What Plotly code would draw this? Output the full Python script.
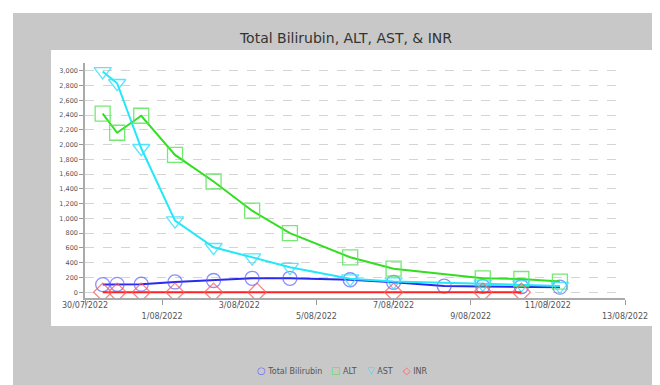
import plotly.graph_objects as go

# ---- data ----
bili_dates = ["2022-07-30 11:00", "2022-07-30 20:00", "2022-07-31 11:00", "2022-08-01 08:00",
              "2022-08-02 08:00", "2022-08-03 08:00", "2022-08-04 07:30", "2022-08-05 21:00",
              "2022-08-07 00:00", "2022-08-08 07:30", "2022-08-09 07:30", "2022-08-10 07:30",
              "2022-08-11 07:30"]
bili = [105, 108, 110, 140, 160, 190, 190, 170, 135, 85, 80, 75, 70]

alt_dates = ["2022-07-30 11:00", "2022-07-30 20:00", "2022-07-31 11:00", "2022-08-01 08:00",
             "2022-08-02 08:00", "2022-08-03 08:00", "2022-08-04 07:30", "2022-08-05 21:00",
             "2022-08-07 00:00", "2022-08-09 07:30", "2022-08-10 07:30", "2022-08-11 07:30"]
alt = [2420, 2160, 2390, 1860, 1500, 1105, 800, 474, 320, 190, 180, 145]

ast_dates = alt_dates
ast = [2990, 2830, 1950, 970, 610, 470, 340, 185, 145, 115, 105, 85]

inr_dates = ["2022-07-30 11:00", "2022-07-30 20:00", "2022-07-31 11:00", "2022-08-01 08:00",
             "2022-08-02 08:00", "2022-08-03 11:00", "2022-08-07 00:00", "2022-08-09 07:30",
             "2022-08-10 07:30"]
inr = [1.6, 1.5, 1.4, 1.3, 1.2, 1.1, 1.1, 1.0, 1.0]

x_tickvals = ["2022-07-30", "2022-08-01", "2022-08-03", "2022-08-05",
              "2022-08-07", "2022-08-09", "2022-08-11", "2022-08-13"]
x_ticktext = ["30/07/2022", "<br>1/08/2022", "3/08/2022", "<br>5/08/2022",
              "7/08/2022", "<br>9/08/2022", "11/08/2022", "<br>13/08/2022"]
y_tickvals = list(range(0, 3001, 200))
y_ticktext = [f"{v:,}" for v in y_tickvals]

title = "Total Bilirubin, ALT, AST, & INR"
names = ["Total Bilirubin", "ALT", "AST", "INR"]
legend_glyphs = ["\u25CB", "\u25A1", "\u25BD", "\u25C7"]

# ---- styles ----
W, H = 660, 385
L, R, T, B = 77, 43, 55, 95
pw, ph = W - L - R, H - T - B

def px_x(p):
    return (p - L) / pw

def px_y(p):
    return (H - B - p) / ph

series = [
    (bili_dates, bili, "#2a2aee", "rgba(80,80,255,0.65)", "circle-open", 14),
    (alt_dates, alt, "#33dd22", "rgba(90,230,90,0.85)", "square-open", 15),
    (ast_dates, ast, "#22e8f8", "rgba(60,225,255,0.85)", "triangle-down-open", 15),
    (inr_dates, inr, "#ff2020", "rgba(255,90,90,0.75)", "diamond-open", 14),
]
legend_glyph_colors = ["#6666ff", "#55dd55", "#33ddff", "#ff6666"]
legend_x_px = [247, 321, 357, 393]

fig = go.Figure()
for (xs, ys, lc, mc, sym, sz), nm in zip(series, names):
    fig.add_trace(go.Scatter(
        x=xs, y=ys, mode="lines+markers", name=nm, showlegend=False,
        line=dict(color=lc, width=2),
        marker=dict(symbol=sym, size=sz, color=mc, line=dict(width=1.3)),
    ))

shapes = [
    dict(type="rect", xref="paper", yref="paper", layer="below",
         x0=px_x(5), x1=px_x(W + 5), y0=px_y(H + 5), y1=px_y(5),
         fillcolor="#c8c8c8", line=dict(width=0)),
    dict(type="rect", xref="paper", yref="paper", layer="below",
         x0=px_x(43), x1=px_x(647), y0=px_y(318), y1=px_y(42),
         fillcolor="#ffffff", line=dict(width=0)),
]

annotations = []
for nm, g, gc, xp in zip(names, legend_glyphs, legend_glyph_colors, legend_x_px):
    annotations.append(dict(
        xref="paper", yref="paper", x=px_x(xp), y=px_y(362),
        xanchor="left", yanchor="middle", showarrow=False,
        text=f"<span style='color:{gc}; font-size:10px'>{g}</span> {nm}",
        font=dict(size=8, color="#555555", family="DejaVu Sans"),
    ))

fig.update_layout(
    width=W, height=H,
    margin=dict(l=L, r=R, t=T, b=B),
    paper_bgcolor="#ffffff",
    plot_bgcolor="rgba(0,0,0,0)",
    font=dict(family="DejaVu Sans", color="#444444"),
    title=dict(text=title, x=px_x(338), xref="paper", xanchor="center",
               y=1 - 30 / H, yanchor="middle",
               font=dict(size=14, color="#333333", family="DejaVu Sans")),
    shapes=shapes,
    annotations=annotations,
    showlegend=False,
)
fig.update_xaxes(
    type="date", range=["2022-07-30", "2022-08-13"],
    tickmode="array", tickvals=x_tickvals, ticktext=x_ticktext,
    showgrid=False, zeroline=False,
    showline=True, linecolor="#aaaaaa", linewidth=1.5,
    ticks="outside", ticklen=5, tickcolor="#999999",
    ticklabelstandoff=-6,
    tickfont=dict(size=8, color="#555555"), automargin=False,
)
fig.update_yaxes(
    range=[-77, 3104],
    tickmode="array", tickvals=y_tickvals, ticktext=y_ticktext,
    showgrid=True, gridcolor="#d4d4d4", griddash="dash", gridwidth=1,
    zeroline=False,
    showline=True, linecolor="#aaaaaa", linewidth=1.5,
    ticks="outside", ticklen=4, tickcolor="#999999",
    tickfont=dict(size=6.5, color="#555555"), automargin=False,
)

fig.write_html("out.html")
